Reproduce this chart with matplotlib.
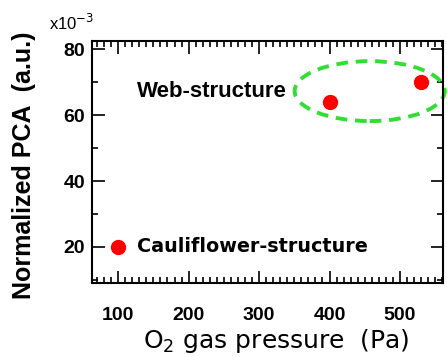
import matplotlib
matplotlib.use('Agg')
import matplotlib.pyplot as pl
from matplotlib.patches import Ellipse
from matplotlib.ticker import MultipleLocator

# O2 pressure (Pa) vs normalized PCA (x1e-3)
pressure = [100, 400, 530]
pca = [20, 64, 70]

labels = ['Web-structure', 'Cauliflower-structure']

pl.rcParams['font.family'] = ['Liberation Sans', 'DejaVu Sans']

fig = pl.figure(figsize=(4.47, 3.57), dpi=100)
ax = fig.add_axes([0.206, 0.207, 0.785, 0.678])

ax.plot(pressure, pca, 'o', color='#ff0000', markersize=10, zorder=3)

ell = Ellipse((457, 67.3), 213, 18.2, fill=False, edgecolor='#33dd33',
              linewidth=2.8, linestyle=(0, (3, 2)), clip_on=False, zorder=2)
ax.add_patch(ell)

ax.text(340, 67.3, labels[0], ha='right', va='center', fontsize=16,
        fontweight='bold')
ax.text(127, 20, labels[1], ha='left', va='center', fontsize=13.8,
        fontweight='bold', family='DejaVu Sans')

ax.set_xlim(63, 561)
ax.set_ylim(9, 82.5)
ax.xaxis.set_major_locator(MultipleLocator(100))
ax.xaxis.set_minor_locator(MultipleLocator(10))
ax.yaxis.set_major_locator(MultipleLocator(20))
ax.yaxis.set_minor_locator(MultipleLocator(10))
ax.tick_params(which='both', direction='in', top=True, right=True, width=1.2)
ax.tick_params(which='major', length=9, labelsize=14)
ax.tick_params(which='minor', length=4)
ax.tick_params(axis='x', which='major', pad=17)
ax.tick_params(axis='y', which='major', pad=5)
for lab in ax.get_xticklabels() + ax.get_yticklabels():
    lab.set_fontweight('bold')
for sp in ax.spines.values():
    sp.set_linewidth(1.5)

ax.set_xlabel(r'O$_2$ gas pressure  (Pa)', fontsize=18, family='DejaVu Sans')
ax.xaxis.set_label_coords(0.524, -0.18)
ax.set_ylabel('Normalized PCA  (a.u.)', fontsize=18, fontweight='bold')
ax.yaxis.set_label_coords(-0.16, 0.488)
fig.text(0.11, 0.935, r'x10$^{-3}$', fontsize=12, va='center')

pl.savefig('out.png', dpi=100)
